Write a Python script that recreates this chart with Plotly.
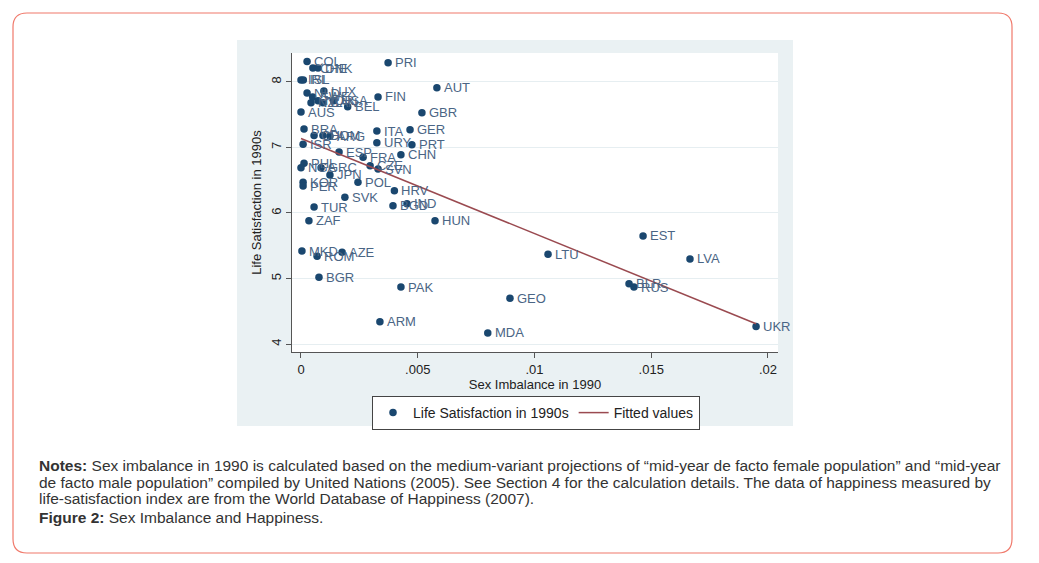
import numpy as np
import plotly.graph_objects as go

countries = ["COL","CHE","DNK","PRI","IRL","ISL","AUT","LUX","NLD","SWE","FIN","NOR","USA","CAN","NZL","BEL","AUS","GBR",
             "BRA","GER","ITA","CHL","DOM","ARG","ISR","URY","PRT","ESP","CHN","FRA","PHL","CZE","NGA","GRC","SVN","JPN",
             "KOR","POL","PER","HRV","SVK","IND","BGD","TUR","ZAF","HUN","MKD","AZE","ROM","BGR","PAK","ARM","MDA","GEO",
             "LTU","EST","LVA","BLR","RUS","UKR"]
sex_imbalance = [0.00026,0.00051,0.00073,0.00373,0.0000,0.0001,0.00582,0.00098,0.00026,0.0005,0.0033,0.00073,0.0014,0.00094,0.00043,0.002,0.0000,0.00518,
                 0.00013,0.00467,0.00325,0.00056,0.00094,0.00124,0.00009,0.00325,0.00475,0.00163,0.00428,0.00266,0.00013,0.00296,0.0000,0.00086,0.0033,0.00124,
                 0.00009,0.00244,0.00009,0.004,0.00188,0.00454,0.00394,0.00056,0.00034,0.00574,0.00004,0.00176,0.00069,0.00077,0.00428,0.00338,0.008,0.00895,
                 0.01058,0.01465,0.01666,0.01405,0.01426,0.01949]
life_satisfaction = [8.31,8.21,8.21,8.29,8.03,8.03,7.91,7.86,7.83,7.77,7.77,7.71,7.71,7.68,7.68,7.62,7.54,7.53,
                     7.28,7.27,7.25,7.18,7.18,7.17,7.05,7.07,7.04,6.93,6.89,6.85,6.76,6.72,6.69,6.69,6.67,6.58,
                     6.47,6.47,6.41,6.34,6.24,6.14,6.11,6.09,5.88,5.88,5.42,5.40,5.34,5.02,4.87,4.34,4.17,4.70,
                     5.37,5.65,5.30,4.92,4.87,4.27]
x_ticks = [0, 0.005, 0.01, 0.015, 0.02]
x_ticklabels = ["0", ".005", ".01", ".015", ".02"]
y_ticks = [4, 5, 6, 7, 8]

xs = np.array(sex_imbalance)
ys = np.array(life_satisfaction)
slope, intercept = np.polyfit(xs, ys, 1)
fit_x = np.array([xs.min(), xs.max()])
fit_y = intercept + slope * fit_x

W, H = 1039, 563
L, R, T, B = 292, 778, 53, 352
PW, PH = R - L, B - T

def px(xp):
    return (xp - L) / PW

def py(yp):
    return (B - yp) / PH

def rounded_path(x0, y0, x1, y1, r):
    pts = [
        f"M {px(x0+r)},{py(y0)}",
        f"L {px(x1-r)},{py(y0)}",
        f"Q {px(x1)},{py(y0)} {px(x1)},{py(y0+r)}",
        f"L {px(x1)},{py(y1-r)}",
        f"Q {px(x1)},{py(y1)} {px(x1-r)},{py(y1)}",
        f"L {px(x0+r)},{py(y1)}",
        f"Q {px(x0)},{py(y1)} {px(x0)},{py(y1-r)}",
        f"L {px(x0)},{py(y0+r)}",
        f"Q {px(x0)},{py(y0)} {px(x0+r)},{py(y0)}",
        "Z",
    ]
    return " ".join(pts)

navy = "#1A476F"
maroon = "#9A4A50"
font = "Liberation Sans, Arial, sans-serif"

fig = go.Figure()
fig.add_trace(go.Scatter(
    x=sex_imbalance, y=life_satisfaction, mode="markers",
    marker=dict(color=navy, size=7.5), name="Life Satisfaction in 1990s"))
fig.add_trace(go.Scatter(
    x=fit_x, y=fit_y, mode="lines", line=dict(color=maroon, width=1.5),
    name="Fitted values"))

shapes = [
    dict(type="rect", xref="paper", yref="paper", x0=px(237), x1=px(793), y0=py(426), y1=py(40),
         fillcolor="#EAF1F3", line=dict(width=0), layer="below"),
    dict(type="rect", xref="paper", yref="paper", x0=0, x1=1, y0=0, y1=1,
         fillcolor="white", line=dict(width=0), layer="below"),
    dict(type="path", xref="paper", yref="paper", path=rounded_path(13, 13, 1012, 553, 14),
         line=dict(color="#F0796B", width=1.2), layer="below"),
]

annotations = []
for c, xv, yv in zip(countries, sex_imbalance, life_satisfaction):
    annotations.append(dict(text=c, x=xv, y=yv, xref="x", yref="y", xanchor="left", yanchor="middle",
                            xshift=5, showarrow=False,
                            font=dict(size=13, color="#4A6585", family=font)))

notes = [
    "<b>Notes:</b> Sex imbalance in 1990 is calculated based on the medium-variant projections of \u201cmid-year de facto female population\u201d and \u201cmid-year",
    "de facto male population\u201d compiled by United Nations (2005). See Section 4 for the calculation details. The data of happiness measured by",
    "life-satisfaction index are from the World Database of Happiness (2007).",
    "<b>Figure 2:</b> Sex Imbalance and Happiness.",
]
note_y = [465, 482, 499, 517]
for t, yy in zip(notes, note_y):
    annotations.append(dict(text=t, xref="paper", yref="paper", x=px(37), y=py(yy),
                            xanchor="left", yanchor="middle", showarrow=False,
                            font=dict(size=15.5, color="#333333", family=font)))

fig.update_layout(
    width=W, height=H,
    margin=dict(l=L, r=W - R, t=T, b=H - B, pad=0),
    paper_bgcolor="white", plot_bgcolor="white",
    font=dict(family=font, color="#222222"),
    shapes=shapes, annotations=annotations,
    showlegend=True,
    legend=dict(orientation="h", x=px(536), xanchor="center", y=py(396), yanchor="top",
                bordercolor="#444444", borderwidth=1, bgcolor="white",
                font=dict(size=14, color="#222222", family=font)),
    xaxis=dict(range=[-0.000385, 0.02043], tickvals=x_ticks, ticktext=x_ticklabels,
               showgrid=False, zeroline=False, showline=True, linecolor="#555555", linewidth=1,
               ticks="outside", ticklen=5, tickcolor="#555555",
               tickfont=dict(size=13, color="#222222"),
               title=dict(text="Sex Imbalance in 1990", font=dict(size=13, color="#222222"), standoff=0)),
    yaxis=dict(range=[3.88, 8.44], tickvals=y_ticks, tickangle=-90,
               showgrid=True, gridcolor="#E6EEF1", gridwidth=1, zeroline=False,
               showline=True, linecolor="#555555", linewidth=1,
               ticks="outside", ticklen=5, tickcolor="#555555",
               tickfont=dict(size=13, color="#222222"),
               title=dict(text="Life Satisfaction in 1990s", font=dict(size=13, color="#222222"), standoff=4)),
)

fig.write_html("out.html")
